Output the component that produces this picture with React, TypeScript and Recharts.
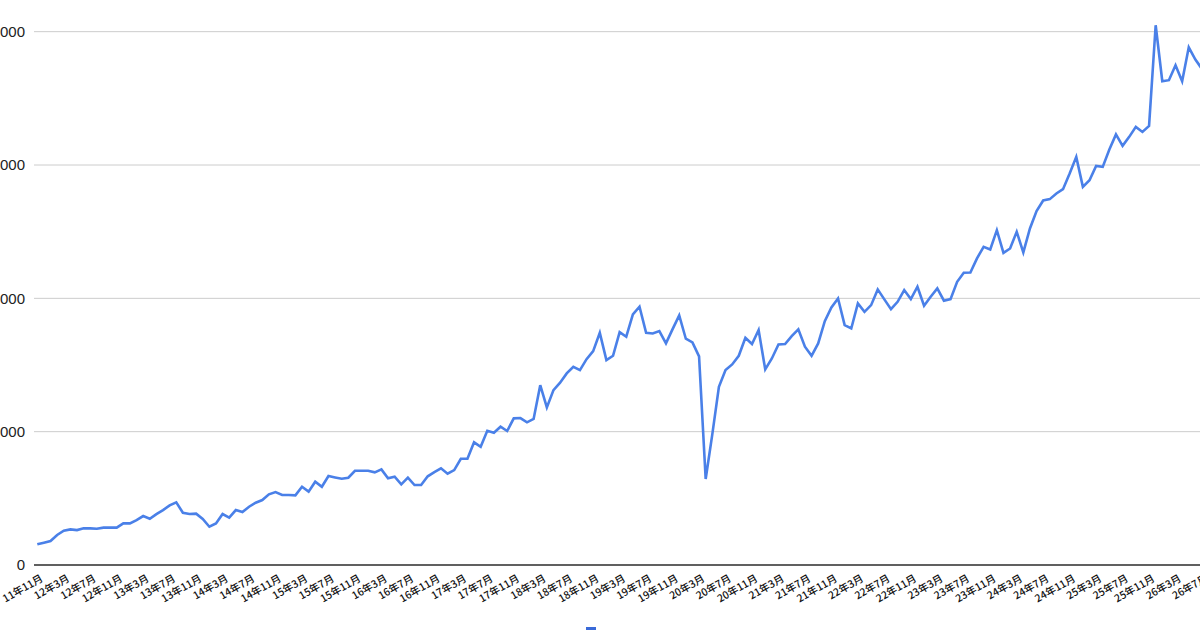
import React from 'react';
import { LineChart, Line, XAxis, YAxis, CartesianGrid, Legend } from 'recharts';

// Categories: monthly, from 11年11月 to 26年7月
const monthLabels: string[] = (() => {
  const out: string[] = [];
  let y = 11;
  let m = 11;
  for (let k = 0; k < 177; k++) {
    out.push(`${y}年${m}月`);
    m++;
    if (m > 12) {
      m = 1;
      y++;
    }
  }
  return out;
})();

// Series values
const seriesValues: number[] = [
  1550, 1670, 1800, 2250, 2570, 2670, 2620, 2750, 2750, 2720,
  2800, 2800, 2800, 3120, 3120, 3370, 3670, 3470, 3820, 4120,
  4470, 4700, 3920, 3820, 3850, 3450, 2870, 3120, 3820, 3550,
  4120, 3970, 4370, 4670, 4870, 5300, 5470, 5250, 5250, 5220,
  5870, 5500, 6250, 5870, 6670, 6570, 6470, 6550, 7070, 7070,
  7070, 6950, 7170, 6500, 6620, 6050, 6550, 6000, 6000, 6650,
  6970, 7250, 6850, 7120, 7970, 7970, 9200, 8870, 10070, 9920,
  10370, 10050, 11000, 11020, 10700, 10950, 13490, 11820, 13120, 13670,
  14370, 14870, 14620, 15440, 16040, 17410, 15370, 15690, 17470, 17120,
  18790, 19370, 17410, 17360, 17540, 16620, 17690, 18720, 16970, 16700,
  15650, 6450, 9800, 13370, 14620, 15040, 15690, 17040, 16570, 17620,
  14670, 15490, 16540, 16570, 17170, 17670, 16370, 15690, 16620, 18290,
  19320, 19990, 17990, 17740, 19620, 18990, 19490, 20670, 19920, 19190,
  19740, 20620, 19940, 20870, 19440, 20120, 20740, 19820, 19940, 21240,
  21920, 21940, 23000, 23860, 23660, 25110, 23410, 23740, 24990, 23440,
  25240, 26540, 27340, 27440, 27860, 28190, 29360, 30610, 28360, 28860,
  29930, 29860, 31160, 32290, 31440, 32110, 32860, 32480, 32930, 40480,
  36280, 36360, 37480, 36280, 38830, 37910, 37200,
];

const yTicks: number[] = [0, 10000, 20000, 30000, 40000];

const seriesName = '評価額';

const data = monthLabels.map((month, i) => ({ month, value: seriesValues[i] }));

const FONT = "'Liberation Sans', Arial, 'Noto Sans CJK JP', sans-serif";
const CJK_FONT = "'Noto Sans CJK JP', 'Liberation Sans', sans-serif";
const LINE_COLOR = '#4a80e8';

const XTick = (props: any) => {
  const { x, y, payload } = props;
  return (
    <g transform={`translate(${x + 6.5},${y + 15.5})`}>
      <text
        textAnchor="end"
        transform="rotate(-30)"
        fontSize={10.4}
        fontWeight={500}
        fill="#111"
        fontFamily={CJK_FONT}
      >
        {payload.value}
      </text>
    </g>
  );
};

const LegendSquare = () => (
  <div style={{ width: 10, height: 10, background: '#3a6ad8' }} />
);

const formatY = (v: number) => v.toLocaleString('en-US');

export default function App() {
  return (
    <div
      style={{
        position: 'fixed',
        left: 0,
        top: 0,
        width: 1200,
        height: 630,
        overflow: 'hidden',
        background: '#fff',
      }}
    >
      <div style={{ position: 'absolute', left: -60, top: 0 }}>
        <LineChart
          width={1272}
          height={700}
          data={data}
          margin={{ top: 5, right: 10, left: 0, bottom: 85 }}
        >
          <CartesianGrid
            horizontal={true}
            vertical={false}
            horizontalValues={yTicks}
            stroke="#cccccc"
            strokeWidth={1}
          />
          <XAxis
            dataKey="month"
            interval={3}
            height={50}
            padding={{ left: 3.3, right: 0 }}
            tickLine={false}
            tickSize={0}
            tickMargin={0}
            axisLine={{ stroke: '#333333', strokeWidth: 1.6 }}
            tick={<XTick />}
          />
          <YAxis
            width={94}
            domain={[0, 42000]}
            ticks={yTicks}
            tickFormatter={formatY}
            axisLine={false}
            tickLine={false}
            tickSize={0}
            tickMargin={9}
            tick={{ fontSize: 15, fill: '#222', fontFamily: FONT }}
          />
          <Legend
            layout="horizontal"
            verticalAlign="middle"
            align="center"
            content={<LegendSquare />}
            wrapperStyle={{ position: 'absolute', top: 627, left: 645.7, width: 10, height: 10 }}
          />
          <Line
            type="linear"
            dataKey="value"
            name={seriesName}
            stroke={LINE_COLOR}
            strokeWidth={2.6}
            dot={false}
            isAnimationActive={false}
          />
        </LineChart>
      </div>
    </div>
  );
}
